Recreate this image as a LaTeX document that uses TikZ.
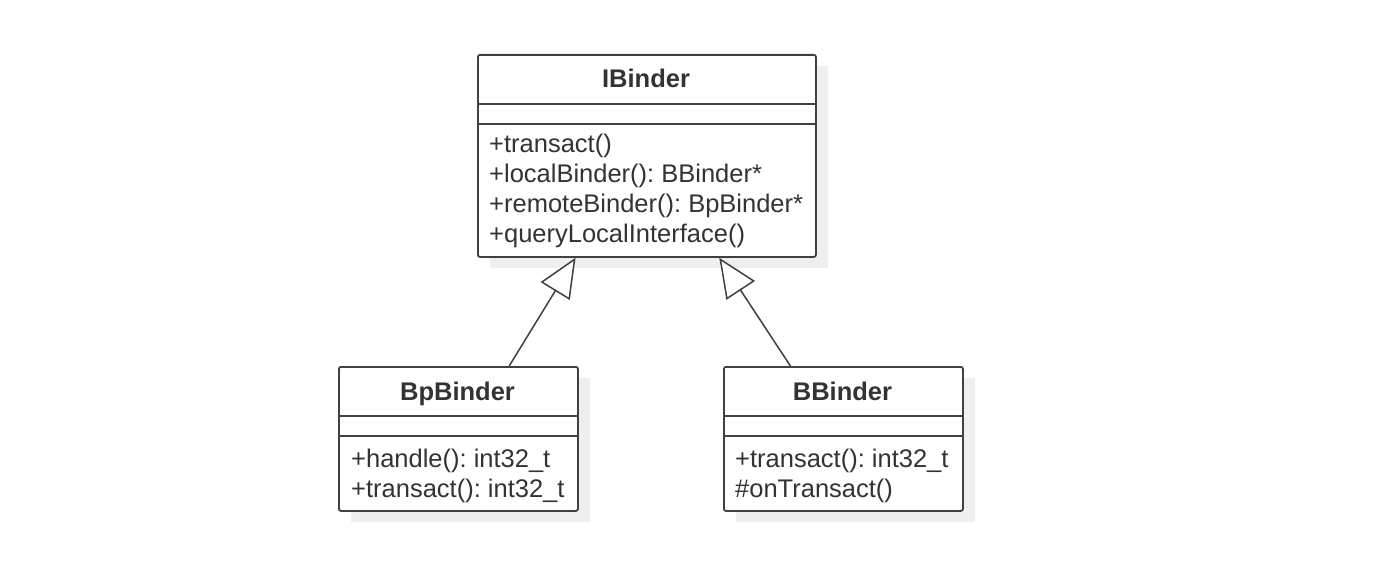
\documentclass[tikz,border=0pt]{standalone}
\usepackage{fontspec}
\setmainfont{Liberation Sans}
\usetikzlibrary{arrows.meta,calc}
\definecolor{umlline}{HTML}{404040}
\definecolor{umlshadow}{HTML}{EFEFEF}
\definecolor{umltext}{HTML}{333333}
\frenchspacing
\begin{document}
\begin{tikzpicture}[x=1pt,y=-1pt,
  classbox/.style={draw=umlline, line width=1.8pt, fill=white, rounded corners=2pt, inner sep=0pt, anchor=north west},
  shadowbox/.style={fill=umlshadow, draw=none, inner sep=0pt, anchor=north west},
  classtitle/.style={font=\fontsize{25.5}{30}\selectfont\bfseries\frenchspacing, text=umltext, anchor=base, inner sep=0pt},
  member/.style={font=\fontsize{25.5}{30}\selectfont\frenchspacing, text=umltext, anchor=base west, inner sep=0pt},
  divider/.style={draw=umlline, line width=1.8pt},
  inherit/.style={draw=umlline, line width=1.5pt, -{Triangle[open, length=39pt, width=34pt, fill=white]}}
]
\useasboundingbox (0,0) rectangle (1376,572);

% shadows
\node[shadowbox, minimum width=338pt, minimum height=202pt] (ibs) at (490,66) {};
\node[shadowbox, minimum width=239pt, minimum height=144pt] (bps) at (351,378) {};
\node[shadowbox, minimum width=239pt, minimum height=144pt] (bbs) at (736,378) {};

% IBinder
\node[classbox, minimum width=338pt, minimum height=202pt] (ib) at (477,54) {};
\draw[divider] (ib.west |- 0,104) -- (ib.east |- 0,104);
\draw[divider] (ib.west |- 0,124) -- (ib.east |- 0,124);
\node[classtitle] (ibt) at (646,88) {IBinder};
\node[member] (ib1) at (489,153) {+transact()};
\node[member] (ib2) at (489,183) {+localBinder(): BBinder*};
\node[member] (ib3) at (489,213) {+remoteBinder(): BpBinder*};
\node[member] (ib4) at (489,243) {+queryLocalInterface()};

% BpBinder
\node[classbox, minimum width=239pt, minimum height=144pt] (bp) at (338,366) {};
\draw[divider] (bp.west |- 0,416) -- (bp.east |- 0,416);
\draw[divider] (bp.west |- 0,436) -- (bp.east |- 0,436);
\node[classtitle] (bpt) at (457.5,400) {BpBinder};
\node[member] (bp1) at (351,467) {+handle(): int32\_t};
\node[member] (bp2) at (351,497) {+transact(): int32\_t};

% BBinder
\node[classbox, minimum width=239pt, minimum height=144pt] (bb) at (723,366) {};
\draw[divider] (bb.west |- 0,416) -- (bb.east |- 0,416);
\draw[divider] (bb.west |- 0,436) -- (bb.east |- 0,436);
\node[classtitle] (bbt) at (842.5,400) {BBinder};
\node[member] (bb1) at (735,467) {+transact(): int32\_t};
\node[member] (bb2) at (735,497) {\#onTransact()};

% inheritance connectors
\coordinate (bpup) at ($(bp.north west)!0.711!(bp.north east)$);
\coordinate (ibl) at ($(ib.south west)!0.29!(ib.south east)$);
\coordinate (bbup) at ($(bb.north west)!0.28!(bb.north east)$);
\coordinate (ibr) at ($(ib.south west)!0.713!(ib.south east)$);
\draw[inherit] (bpup) -- (ibl);
\draw[inherit] (bbup) -- (ibr);
\end{tikzpicture}
\end{document}
